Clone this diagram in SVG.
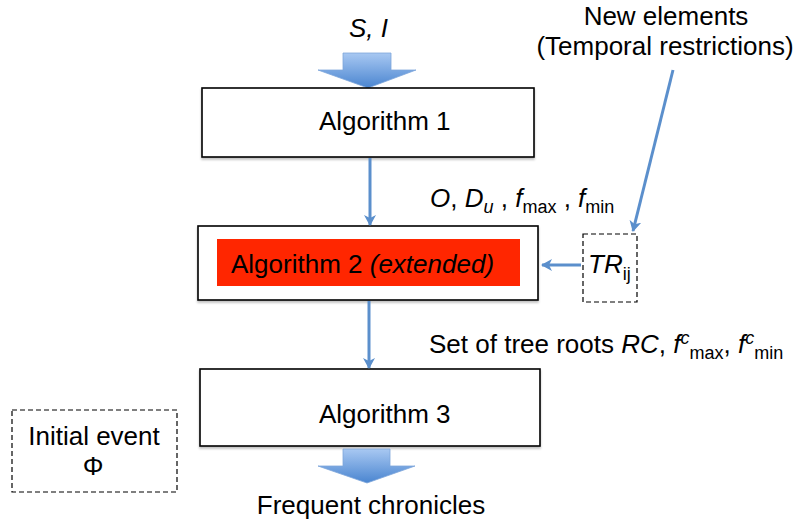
<svg xmlns="http://www.w3.org/2000/svg" width="803" height="525" viewBox="0 0 803 525">
<style>
  text { font-family: "Liberation Sans", Arial, sans-serif; font-size: 26px; fill: #000; }
  .it { font-style: italic; }
  .sub { font-size: 18px; }
  .box { fill: #fff; stroke: #000; stroke-width: 1.6; }
  .dash { fill: #fff; stroke: #000; stroke-width: 1.2; stroke-dasharray: 5 3; }
  .conn { stroke: #5b8fcc; stroke-width: 3; fill: none; marker-end: url(#ah); }
  .fat { fill: url(#fg); stroke: #7ea6db; stroke-width: 0.8; }
</style>
<defs>
  <marker id="ah" viewBox="0 0 12 12" refX="10" refY="6" markerWidth="12" markerHeight="12" markerUnits="userSpaceOnUse" orient="auto">
    <path d="M0,0 L11,6 L0,12 L3,6 Z" fill="#5b8fcc"/>
  </marker>
  <linearGradient id="fg" x1="0" y1="0" x2="0" y2="1">
    <stop offset="0" stop-color="#a8c8f2"/>
    <stop offset="1" stop-color="#4a85d0"/>
  </linearGradient>
  <filter id="sh" x="-5%" y="-5%" width="110%" height="115%">
    <feDropShadow dx="0" dy="2" stdDeviation="1.2" flood-color="#000" flood-opacity="0.25"/>
  </filter>
</defs>

<g id="input-label">
  <text x="349" y="37" class="it">S, I</text>
</g>
<g id="arrow-in">
  <path class="fat" d="M343,53 H391 V70 H416 L368,88 L318,70 H343 Z"/>
</g>

<g id="algorithm1">
  <rect class="box" x="202" y="88" width="332" height="69" filter="url(#sh)"/>
  <text x="319" y="130">Algorithm 1</text>
</g>

<g id="algorithm2">
  <rect class="box" x="198" y="226" width="340" height="74" filter="url(#sh)"/>
  <rect x="217" y="239" width="303" height="47" fill="#ff2600"/>
  <text x="231" y="273">Algorithm 2 <tspan class="it">(extended)</tspan></text>
</g>

<g id="tr">
  <rect class="dash" x="583" y="234" width="54" height="68"/>
  <text x="588" y="273" class="it">TR<tspan class="sub" font-style="normal" dy="7">ij</tspan></text>
</g>

<g id="algorithm3">
  <rect class="box" x="200" y="369" width="340" height="77" filter="url(#sh)"/>
  <text x="319" y="423">Algorithm 3</text>
</g>

<g id="initial-event">
  <rect class="dash" x="12" y="410" width="165" height="82"/>
  <text x="94" y="445" text-anchor="middle">Initial event</text>
  <text x="93" y="475" text-anchor="middle">Φ</text>
</g>

<g id="arrow-out">
  <path class="fat" d="M343,449 H390 V466 H415 L367,483 L318,466 H343 Z"/>
</g>
<g id="output-label">
  <text x="371" y="514" text-anchor="middle">Frequent chronicles</text>
</g>

<g id="new-elements">
  <text x="666" y="25" text-anchor="middle">New elements</text>
  <text x="665" y="55" text-anchor="middle">(Temporal restrictions)</text>
</g>

<g id="label-a1">
  <text x="430" y="207"><tspan class="it">O</tspan>, <tspan class="it">D<tspan class="sub" dy="6">u</tspan></tspan><tspan dy="-6"> , </tspan><tspan class="it">f</tspan><tspan class="sub" dy="6">max</tspan><tspan dy="-6"> , </tspan><tspan class="it">f</tspan><tspan class="sub" dy="6">min</tspan></text>
</g>

<g id="label-a2">
  <text x="429" y="353">Set of tree roots <tspan class="it">RC</tspan>, <tspan class="it">f<tspan class="sub" dy="-9">c</tspan></tspan><tspan class="sub" dy="15">max</tspan><tspan dy="-6">, </tspan><tspan class="it">f<tspan class="sub" dy="-9">c</tspan></tspan><tspan class="sub" dy="15">min</tspan></text>
</g>

<g id="connectors">
  <line class="conn" x1="370" y1="158" x2="370" y2="225"/>
  <line class="conn" x1="369" y1="301" x2="369" y2="368"/>
  <line class="conn" x1="581" y1="265" x2="542" y2="265"/>
  <line class="conn" x1="673" y1="70" x2="633" y2="231"/>
</g>
</svg>
